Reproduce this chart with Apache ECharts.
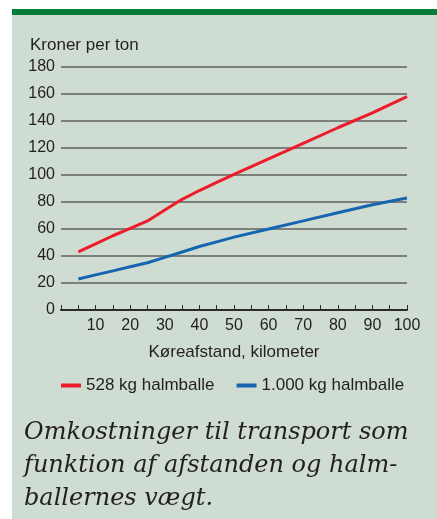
<!DOCTYPE html>
<html>
<head>
<meta charset="utf-8">
<script src="https://cdn.jsdelivr.net/npm/echarts@6/dist/echarts.min.js"></script>
<style>
  html, body { margin: 0; padding: 0; background: #fff; }
  #chart { width: 437px; height: 519px; }
</style>
</head>
<body>
<div id="chart"></div>
<script>
// km driven
const distances = [5, 10, 15, 20, 25, 30, 35, 40, 45, 50, 60, 70, 80, 90, 100];
// kroner per ton
const small = [43, 49, 55, 60.5, 66, 74, 82, 88.5, 94.5, 100.5, 112, 123.5, 135, 146, 158];
const big = [23, 26, 29, 32, 35, 39, 43, 47, 50.5, 54, 60, 66, 72, 78, 83];
const seriesNames = ['528 kg halmballe', '1.000 kg halmballe'];
const xLabels = [10, 20, 30, 40, 50, 60, 70, 80, 90, 100];

const chart = echarts.init(document.getElementById('chart'));
const font = '"Liberation Sans", Arial, sans-serif';
const textColor = '#231f20';

const pairs = arr => distances.map((d, i) => [d, arr[i]]);

chart.setOption({
  animation: false,
  graphic: [
    { type: 'rect', z: -10, shape: { x: 12, y: 9, width: 425, height: 510 }, style: { fill: '#cfdcd1' } },
    { type: 'rect', z: -9, shape: { x: 12, y: 9, width: 425, height: 6 }, style: { fill: '#067d3a' } },
    { type: 'text', left: 30, top: 37, style: { text: 'Kroner per ton', font: '17px ' + font, fill: textColor } },
    {
      type: 'text', left: 24, top: 416,
      style: {
        text: 'Omkostninger til transport som\nfunktion af afstanden og halm-\nballernes vægt.',
        font: 'italic 24px "DejaVu Serif", serif',
        lineHeight: 33, fill: textColor
      }
    }
  ],
  grid: { left: 61, right: 30, top: 67, bottom: 209 },
  legend: {
    left: 56, top: 372,
    itemWidth: 20, itemHeight: 4, itemGap: 22,
    icon: 'rect',
    textStyle: { fontFamily: font, fontSize: 17, color: textColor },
    data: seriesNames
  },
  xAxis: {
    type: 'value', min: 0, max: 100, interval: 5,
    name: 'Køreafstand, kilometer',
    nameLocation: 'middle', nameGap: 34,
    nameTextStyle: { fontFamily: font, fontSize: 17, color: textColor },
    axisLine: { lineStyle: { color: '#2b2b2b', width: 2 } },
    axisTick: { inside: true, length: 5, lineStyle: { color: '#2b2b2b', width: 1 } },
    axisLabel: {
      margin: 8, fontFamily: font, fontSize: 16, color: textColor,
      formatter: v => (xLabels.indexOf(v) >= 0 ? String(v) : '')
    },
    splitLine: { show: false }
  },
  yAxis: {
    type: 'value', min: 0, max: 180, interval: 20,
    axisLine: { show: false },
    axisTick: { show: false },
    axisLabel: { margin: 6, fontFamily: font, fontSize: 16, color: textColor },
    splitLine: { lineStyle: { color: '#7b807b', width: 2 } }
  },
  series: [
    {
      name: seriesNames[0], type: 'line', data: pairs(small),
      symbol: 'none', color: '#ec1c2b', lineStyle: { width: 3 }
    },
    {
      name: seriesNames[1], type: 'line', data: pairs(big),
      symbol: 'none', color: '#1565b1', lineStyle: { width: 3 }
    }
  ]
});
</script>
</body>
</html>
